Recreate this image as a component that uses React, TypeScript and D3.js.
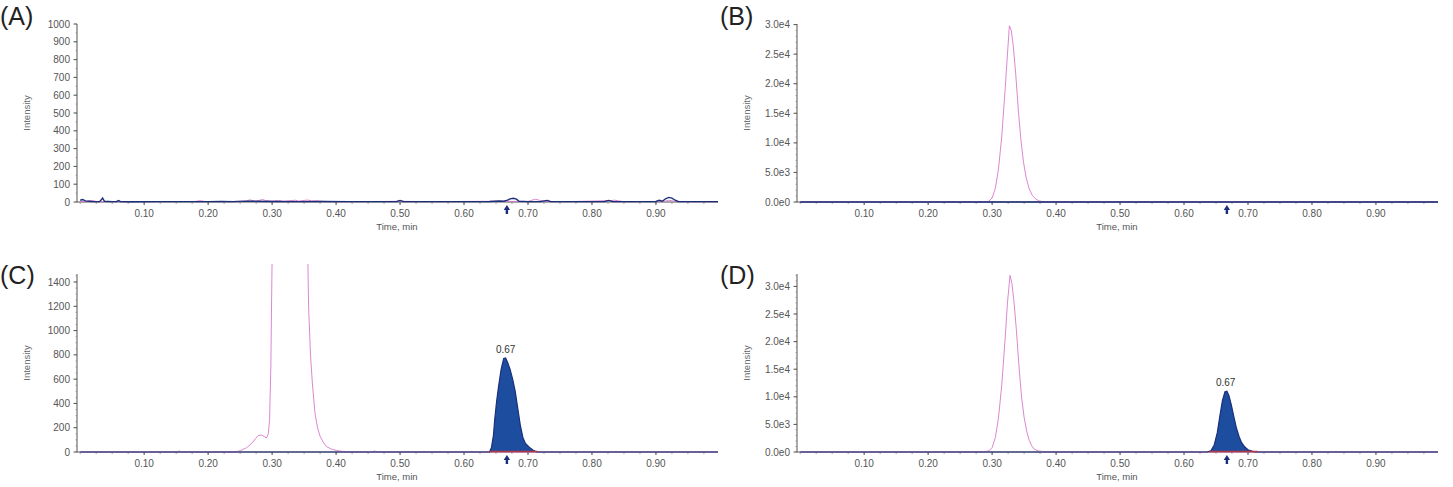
import React from "react";
import * as d3 from "d3";

// time axis (min)
const timeTicks = [0.1, 0.2, 0.3, 0.4, 0.5, 0.6, 0.7, 0.8, 0.9];
const timeDomain: [number, number] = [-0.005, 0.997];

// y ticks
const ticksA = [0, 100, 200, 300, 400, 500, 600, 700, 800, 900, 1000];
const ticksB = [0, 5000, 10000, 15000, 20000, 25000, 30000];
const ticksC = [0, 200, 400, 600, 800, 1000, 1200, 1400];

// traces: [time, intensity]
const blueA: [number, number][] = [
  [0.0, 10], [0.004, 14], [0.008, 6], [0.014, 4], [0.02, 2], [0.03, 2], [0.033, 12], [0.035, 22],
  [0.038, 4], [0.05, 2], [0.057, 3], [0.06, 8], [0.063, 2], [0.08, 1], [0.12, 2], [0.2, 2],
  [0.22, 3], [0.24, 2], [0.262, 5], [0.27, 4], [0.3, 3], [0.34, 2], [0.38, 3], [0.42, 2],
  [0.47, 2], [0.495, 3], [0.5, 9], [0.505, 3], [0.55, 2], [0.6, 2], [0.64, 3], [0.655, 6],
  [0.662, 4], [0.668, 10], [0.672, 18], [0.677, 21], [0.682, 16], [0.686, 4], [0.7, 2], [0.72, 3],
  [0.73, 9], [0.735, 3], [0.76, 2], [0.79, 2], [0.82, 3], [0.826, 9], [0.832, 3], [0.86, 2],
  [0.9, 3], [0.905, 10], [0.91, 4], [0.915, 18], [0.92, 26], [0.925, 22], [0.93, 10], [0.935, 3],
  [0.96, 2], [0.997, 2],
];
const pinkA: [number, number][] = [
  [0.0, 3], [0.01, 4], [0.018, 9], [0.022, 6], [0.026, 2], [0.06, 2], [0.1, 2], [0.18, 3],
  [0.186, 7], [0.19, 6], [0.195, 3], [0.23, 2], [0.26, 6], [0.265, 12], [0.27, 8], [0.274, 3],
  [0.28, 9], [0.285, 14], [0.29, 8], [0.3, 5], [0.31, 9], [0.318, 4], [0.33, 8], [0.336, 10],
  [0.342, 5], [0.35, 9], [0.356, 11], [0.362, 6], [0.37, 7], [0.378, 4], [0.39, 2], [0.43, 2],
  [0.47, 3], [0.5, 4], [0.52, 3], [0.56, 2], [0.6, 3], [0.65, 4], [0.7, 3], [0.706, 10],
  [0.712, 16], [0.718, 9], [0.724, 3], [0.76, 2], [0.8, 5], [0.83, 8], [0.836, 10], [0.842, 6],
  [0.85, 2], [0.9, 3], [0.915, 5], [0.92, 10], [0.926, 6], [0.932, 2], [0.997, 2],
];
const pinkB: [number, number][] = [
  [0, 0], [0.285, 0], [0.29, 40], [0.295, 150], [0.3, 700], [0.305, 2300], [0.31, 5600],
  [0.315, 11000], [0.32, 18500], [0.324, 25000], [0.327, 29800], [0.33, 29000], [0.333, 26500],
  [0.337, 21500], [0.341, 15500], [0.345, 10500], [0.349, 6800], [0.353, 4200], [0.358, 2200],
  [0.363, 1100], [0.368, 500], [0.373, 200], [0.38, 50], [0.39, 0], [0.997, 0],
];
const blueB: [number, number][] = [[0, 0], [0.997, 0]];
const pinkC: [number, number][] = [
  [0, 0], [0.15, 0], [0.155, 8], [0.16, 0], [0.24, 0], [0.25, 10], [0.26, 35], [0.268, 70],
  [0.274, 110], [0.278, 135], [0.283, 140], [0.287, 130], [0.291, 115], [0.294, 150], [0.296, 260],
  [0.298, 700], [0.3, 1600], [0.303, 3500], [0.308, 9000], [0.315, 20000], [0.322, 29000],
  [0.327, 32000], [0.332, 30000], [0.338, 22000], [0.344, 12000], [0.35, 5000], [0.354, 2200],
  [0.357, 1200], [0.36, 800], [0.363, 560], [0.367, 320], [0.371, 200], [0.375, 130], [0.38, 80],
  [0.385, 45], [0.392, 25], [0.401, 12], [0.41, 5], [0.42, 0], [0.455, 0], [0.46, 8], [0.465, 0],
  [0.997, 0],
];
const blueC: [number, number][] = [
  [0, 0], [0.64, 0], [0.643, 40], [0.646, 140], [0.648, 270], [0.651, 420], [0.654, 540],
  [0.658, 680], [0.662, 770], [0.665, 775], [0.668, 740], [0.672, 680], [0.676, 600], [0.68, 500],
  [0.684, 360], [0.688, 220], [0.692, 120], [0.696, 70], [0.702, 40], [0.708, 15], [0.714, 0], [0.997, 0],
];
const pinkD: [number, number][] = [
  [0, 0], [0.27, 0], [0.28, 60], [0.29, 100], [0.295, 200], [0.3, 800], [0.305, 2600], [0.31, 6200],
  [0.315, 12000], [0.32, 20000], [0.324, 27000], [0.328, 32000], [0.331, 30500], [0.334, 27500],
  [0.338, 22000], [0.342, 15500], [0.346, 10000], [0.35, 6300], [0.354, 3800], [0.358, 2100],
  [0.362, 1100], [0.366, 500], [0.372, 200], [0.38, 60], [0.39, 0], [0.997, 0],
];
const blueD: [number, number][] = [
  [0, 0], [0.636, 0], [0.642, 200], [0.647, 1200], [0.652, 3500], [0.656, 6500], [0.66, 9300],
  [0.664, 10900], [0.667, 11000], [0.67, 10300], [0.674, 8500], [0.678, 6300], [0.682, 4300],
  [0.686, 2800], [0.69, 1700], [0.695, 900], [0.7, 400], [0.706, 150], [0.712, 0], [0.997, 0],
];

const markerTime = 0.667;
const peakLabel = "0.67";
const integrationStart = 0.64;
const integrationEnd = 0.715;

const expFmt = (v: number) => d3.format(".1e")(v).replace("+", "");

interface PanelDef {
  key: string;
  label: string;
  dx: number;
  dy: number;
  yMax: number;
  yTicks: number[];
  minorStep: number;
  fmt: (v: number) => string;
  pink: [number, number][];
  blue: [number, number][];
  filled: boolean;
  labelY: number;
}

const panels: PanelDef[] = [
  { key: "A", label: "(A)", dx: 0, dy: 0, yMax: 1000, yTicks: ticksA, minorStep: 50, fmt: (v) => String(v), pink: pinkA, blue: blueA, filled: false, labelY: 25 },
  { key: "B", label: "(B)", dx: 720, dy: 0, yMax: 30100, yTicks: ticksB, minorStep: 1000, fmt: expFmt, pink: pinkB, blue: blueB, filled: false, labelY: 25 },
  { key: "C", label: "(C)", dx: 0, dy: 250, yMax: 1466, yTicks: ticksC, minorStep: 50, fmt: (v) => String(v), pink: pinkC, blue: blueC, filled: true, labelY: 284 },
  { key: "D", label: "(D)", dx: 720, dy: 250, yMax: 32250, yTicks: ticksB, minorStep: 1000, fmt: expFmt, pink: pinkD, blue: blueD, filled: true, labelY: 284 },
];

const FONT = "Arial, 'Liberation Sans', sans-serif";
const PINK = "#d672c8";
const NAVY = "#1c2f7a";
const FILL = "#1c4d9e";

const Panel: React.FC<{ p: PanelDef }> = ({ p }) => {
  const left = 77 + p.dx;
  const right = 718 + p.dx;
  const top = 24 + p.dy;
  const bottom = 202 + p.dy;

  const x = d3.scaleLinear().domain(timeDomain).range([left, right]);
  const y = d3.scaleLinear().domain([0, p.yMax]).range([bottom, top]);

  const line = d3.line<[number, number]>().x((d) => x(d[0])).y((d) => y(d[1]));
  const area = d3.area<[number, number]>().x((d) => x(d[0])).y0(y(0)).y1((d) => y(d[1]));

  const minorY = d3.range(0, p.yMax + 1, p.minorStep);
  const minorX = d3.range(0, 0.9901, 0.025);
  const clipId = `clip-${p.key}`;
  const peak = d3.max(p.blue, (d) => d[1]) ?? 0;
  const mx = x(markerTime);

  return (
    <g>
      <defs>
        <clipPath id={clipId}>
          <rect x={left} y={top - 10} width={right - left} height={bottom - top + 12} />
        </clipPath>
      </defs>
      <text x={p.dx} y={p.labelY} fontSize={25} fill="#222" fontFamily={FONT}>
        {p.label}
      </text>

      {/* y axis */}
      <line x1={left} x2={left} y1={top} y2={bottom} stroke="#555" strokeWidth={1} />
      {minorY.map((v) => (
        <line key={`my${v}`} x1={left - 1.5} x2={left} y1={y(v)} y2={y(v)} stroke="#888" strokeWidth={0.7} />
      ))}
      {p.yTicks.map((v) => (
        <g key={`y${v}`}>
          <line x1={left - 3.5} x2={left} y1={y(v)} y2={y(v)} stroke="#555" strokeWidth={1} />
          <text x={left - 7} y={y(v)} dy="0.35em" textAnchor="end" fontSize={10} fill="#555" fontFamily={FONT}>
            {p.fmt(v)}
          </text>
        </g>
      ))}
      <text
        transform={`translate(${27 + p.dx},${(top + bottom) / 2}) rotate(-90)`}
        textAnchor="middle"
        dy="0.35em"
        fontSize={9.5}
        fill="#666"
        fontFamily={FONT}
      >
        Intensity
      </text>

      {/* x axis */}
      <line x1={left} x2={right} y1={bottom} y2={bottom} stroke="#555" strokeWidth={1} />
      {minorX.map((t) => (
        <line key={`mx${t}`} x1={x(t)} x2={x(t)} y1={bottom} y2={bottom + 2} stroke="#888" strokeWidth={0.8} />
      ))}
      {timeTicks.map((t) => (
        <g key={`x${t}`}>
          <line x1={x(t)} x2={x(t)} y1={bottom} y2={bottom + 3} stroke="#555" strokeWidth={1} />
          <text x={x(t)} y={bottom + 15} textAnchor="middle" fontSize={10} fill="#555" fontFamily={FONT}>
            {t.toFixed(2)}
          </text>
        </g>
      ))}
      <text x={397 + p.dx} y={bottom + 28} textAnchor="middle" fontSize={9.5} fill="#555" fontFamily={FONT}>
        Time, min
      </text>

      {/* traces */}
      <g clipPath={`url(#${clipId})`}>
        <path d={line(p.pink) ?? ""} fill="none" stroke={PINK} strokeWidth={1} opacity={0.85} />
        {p.filled && <path d={area(p.blue) ?? ""} fill={FILL} stroke="none" />}
        <path d={line(p.blue) ?? ""} fill="none" stroke={NAVY} strokeWidth={p.filled ? 1.2 : 1.4} />
        {p.filled && (
          <line
            x1={x(integrationStart)}
            x2={x(integrationEnd)}
            y1={y(0) - 0.5}
            y2={y(0) - 0.5}
            stroke="#b23a48"
            strokeWidth={1.4}
          />
        )}
      </g>

      {p.filled && (
        <text x={x(0.665)} y={y(peak) - 5} textAnchor="middle" fontSize={10} fill="#333" fontFamily={FONT}>
          {peakLabel}
        </text>
      )}

      {/* retention time marker */}
      <path
        d={`M${mx - 3.2},${bottom + 8} L${mx},${bottom + 3} L${mx + 3.2},${bottom + 8} Z`}
        fill={NAVY}
      />
      <rect x={mx - 1.2} y={bottom + 7} width={2.4} height={5} fill={NAVY} />
    </g>
  );
};

export default function App() {
  return (
    <svg
      width={1453}
      height={487}
      style={{ position: "absolute", left: 0, top: 0, background: "#fff" }}
    >
      <rect width={1453} height={487} fill="#fff" />
      {panels.map((p) => (
        <Panel key={p.key} p={p} />
      ))}
    </svg>
  );
}
